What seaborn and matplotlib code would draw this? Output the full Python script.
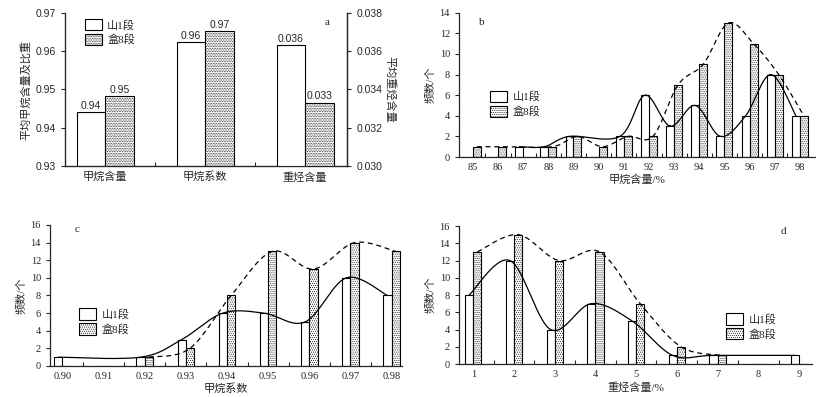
import matplotlib

matplotlib.use("Agg")

import matplotlib.patches as mpatches
import matplotlib.pyplot as plt
import numpy as np
import pandas as pd
import seaborn as sns


GROUPS = ["山1段", "盒8段"]

# a: mean values (重烃含量 is read on the right axis)
A_CATS = ["甲烷含量", "甲烷系数", "重烃含量"]
A_SHAN = [0.944, 0.9623, 0.0363]
A_HE = [0.9482, 0.9653, 0.0333]

# b: frequency vs methane content (%)
B_CATS = ["85", "86", "87", "88", "89", "90", "91", "92", "93", "94", "95", "96", "97", "98"]
B_SHAN = [0, 0, 1, 1, 2, 0, 2, 6, 3, 5, 2, 4, 8, 4]
B_HE = [1, 1, 0, 1, 2, 1, 2, 2, 7, 9, 13, 11, 8, 4]

# c: frequency vs methane coefficient
C_CATS = ["0.90", "0.91", "0.92", "0.93", "0.94", "0.95", "0.96", "0.97", "0.98"]
C_SHAN = [1, 0, 1, 3, 6, 6, 5, 10, 8]
C_HE = [0, 0, 1, 2, 8, 13, 11, 14, 13]

# d: frequency vs heavy hydrocarbon content (%)
D_CATS = ["1", "2", "3", "4", "5", "6", "7", "8", "9"]
D_SHAN = [8, 12, 4, 7, 5, 1, 1, 0, 1]
D_HE = [13, 15, 12, 13, 7, 2, 1, 0, 0]

SERIF = ["Liberation Serif", "Noto Sans CJK SC"]
SANS = ["Liberation Sans", "Noto Sans CJK SC"]
HATCH_A = ".........."
HATCH = "........"


def long_frame(cats, shan, he):
    return pd.DataFrame(
        {
            "cat": list(cats) * 2,
            "n": list(shan) + list(he),
            "seg": [GROUPS[0]] * len(cats) + [GROUPS[1]] * len(cats),
        }
    )


def smooth(points, n=30):
    # catmull-rom through the bar tops
    p = np.array(points, dtype=float)
    p = np.vstack([p[0], p, p[-1]])
    t = np.linspace(0, 1, n)[:, None]
    segs = []
    for i in range(1, len(p) - 2):
        p0, p1, p2, p3 = p[i - 1], p[i], p[i + 1], p[i + 2]
        segs.append(
            0.5
            * (
                2 * p1
                + (-p0 + p2) * t
                + (2 * p0 - 5 * p1 + 4 * p2 - p3) * t**2
                + (-p0 + 3 * p1 - 3 * p2 + p3) * t**3
            )
        )
    arr = np.vstack(segs)
    return arr[:, 0], arr[:, 1]


def legend_handles(hatch):
    return [
        mpatches.Patch(facecolor="white", edgecolor="black", linewidth=0.8, label=GROUPS[0]),
        mpatches.Patch(facecolor="white", edgecolor="black", linewidth=0.8, hatch=hatch, label=GROUPS[1]),
    ]


def style_axis(ax, ncat, family):
    ax.set_xticks(np.arange(ncat))
    ax.set_xticks(np.arange(ncat - 1) + 0.5, minor=True)
    ax.tick_params(axis="x", which="major", length=0, pad=4, labelsize=7.5, labelfontfamily=family)
    ax.tick_params(axis="x", which="minor", direction="in", length=3, width=0.8)
    ax.tick_params(axis="y", direction="out", length=3, width=0.8, labelsize=7.5, labelfontfamily=family)
    for side in ("left", "bottom", "right"):
        ax.spines[side].set_linewidth(0.9)


def draw_hist(ax, cats, shan, he, width, ymax, xlim, xlabel, letter, letter_xy, leg_xy):
    df = long_frame(cats, shan, he)
    sns.barplot(
        data=df,
        x="cat",
        y="n",
        hue="seg",
        order=cats,
        hue_order=GROUPS,
        palette=["white", "white"],
        saturation=1,
        edgecolor="black",
        linewidth=0.8,
        width=width,
        errorbar=None,
        legend=False,
        ax=ax,
    )
    for bar in ax.containers[1]:
        bar.set_hatch(HATCH)

    for cont, ls in zip(ax.containers, ["-", (0, (4, 3))]):
        pts = [(b.get_x() + b.get_width() / 2, b.get_height()) for b in cont if b.get_height() > 0]
        xs, ys = smooth(pts)
        ax.plot(xs, ys, color="black", linewidth=0.9, linestyle=ls, zorder=5)

    ax.set_xlim(*xlim)
    ax.set_ylim(0, ymax)
    ax.set_yticks(np.arange(0, ymax + 1, 2))
    style_axis(ax, len(cats), SERIF)
    sns.despine(ax=ax)
    ax.set_xlabel(xlabel, fontsize=8, labelpad=2)
    ax.set_ylabel("频数/个", fontsize=8, labelpad=3)
    ax.text(*letter_xy, letter, transform=ax.transAxes, fontsize=8, ha="center", va="center")
    ax.legend(
        handles=legend_handles(HATCH),
        loc="upper left",
        bbox_to_anchor=leg_xy,
        frameon=False,
        fontsize=8,
        handlelength=1.5,
        handleheight=1.2,
        handletextpad=0.5,
        labelspacing=0.3,
        borderaxespad=0,
    )


def draw_means(ax):
    ax2 = ax.twinx()
    left = long_frame(A_CATS[:2], A_SHAN[:2], A_HE[:2])
    right = long_frame(A_CATS[2:], A_SHAN[2:], A_HE[2:])
    kw = dict(
        x="cat",
        y="n",
        hue="seg",
        order=A_CATS,
        hue_order=GROUPS,
        palette=["white", "white"],
        saturation=1,
        edgecolor="black",
        linewidth=0.8,
        width=0.57,
        errorbar=None,
        legend=False,
    )
    sns.barplot(data=left, ax=ax, **kw)
    sns.barplot(data=right, ax=ax2, **kw)
    for a, fmt in ((ax, "{:.2f}"), (ax2, "{:.3f}")):
        for bar in a.containers[1]:
            bar.set_hatch(HATCH_A)
        for cont in a.containers:
            lbls = a.bar_label(cont, fmt=fmt, padding=1, fontsize=7.5)
            for t in lbls:
                t.set_fontfamily(SANS)

    ax.set_ylim(0.93, 0.97)
    ax.set_yticks(np.arange(0.93, 0.9701, 0.01))
    ax.set_yticklabels([f"{v:.2f}" for v in np.arange(0.93, 0.9701, 0.01)])
    ax2.set_ylim(0.030, 0.038)
    ax2.set_yticks(np.arange(0.030, 0.03801, 0.002))
    ax2.set_yticklabels([f"{v:.3f}" for v in np.arange(0.030, 0.03801, 0.002)])
    ax.set_xlim(-0.4, 2.42)
    ax2.set_xlim(-0.4, 2.42)

    style_axis(ax, 3, SANS)
    ax.tick_params(axis="x", labelsize=8)
    ax2.tick_params(axis="y", direction="out", length=3, width=0.8, labelsize=7.5, labelfontfamily=SANS)
    ax.spines["top"].set_visible(False)
    ax2.spines["top"].set_visible(False)
    ax2.spines["right"].set_linewidth(0.9)

    ax.set_xlabel("")
    ax.set_ylabel("平均甲烷含量及比重", fontsize=8, labelpad=3)
    ax2.set_xlabel("")
    ax2.set_ylabel("平均重烃含量", fontsize=8, rotation=270, labelpad=10)
    ax.text(0.929, 0.94, "a", transform=ax.transAxes, fontsize=8, ha="center", va="center")
    ax.legend(
        handles=legend_handles(HATCH_A),
        loc="upper left",
        bbox_to_anchor=(0.055, 0.99),
        frameon=False,
        fontsize=8,
        handlelength=1.5,
        handleheight=1.2,
        handletextpad=0.5,
        labelspacing=0.3,
        borderaxespad=0,
    )


def main():
    sns.set_style("ticks")
    plt.rcParams["font.family"] = SERIF
    plt.rcParams["hatch.linewidth"] = 0.4
    plt.rcParams["hatch.color"] = "black"

    fig = plt.figure(figsize=(8.37, 3.97), dpi=100)
    ax_a = fig.add_axes([0.0777, 0.5819, 0.337, 0.3854])
    ax_b = fig.add_axes([0.5484, 0.6045, 0.4253, 0.3635])
    ax_c = fig.add_axes([0.0597, 0.0781, 0.4205, 0.3552])
    ax_d = fig.add_axes([0.5484, 0.0831, 0.4217, 0.3476])

    draw_means(ax_a)
    draw_hist(ax_b, B_CATS, B_SHAN, B_HE, 0.63, 14, (-0.55, 13.6), "甲烷含量/%", "b",
              (0.065, 0.935), (0.075, 0.49))
    draw_hist(ax_c, C_CATS, C_SHAN, C_HE, 0.4, 16, (-0.3, 8.25), "甲烷系数", "c",
              (0.077, 0.965), (0.07, 0.44))
    draw_hist(ax_d, D_CATS, D_SHAN, D_HE, 0.4, 16, (-0.35, 8.32), "重烃含量/%", "d",
              (0.92, 0.96), (0.745, 0.40))

    fig.savefig("out.png", dpi=100)
    plt.close(fig)


if __name__ == "__main__":
    main()
